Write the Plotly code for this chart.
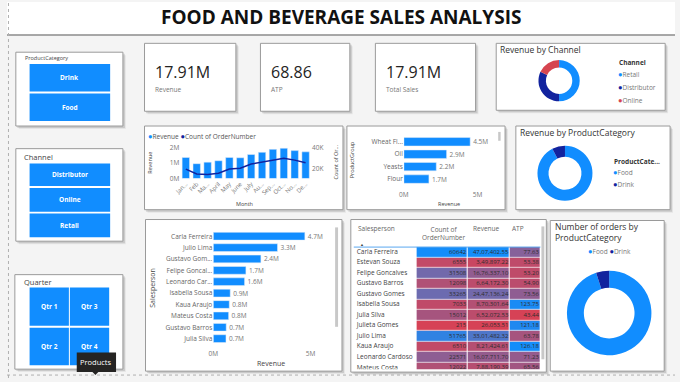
import plotly.graph_objects as go

W, H = 680, 382
def X(px): return px / W
def Y(py): return 1 - py / H

# ---------------- data ----------------
kpi_values = ["17.91M", "68.86", "17.91M"]
kpi_labels = ["Revenue", "ATP", "Total Sales"]

months = ["Jan...", "Feb", "Ma...", "April", "May", "June", "July", "Au...", "Sep...", "Oct...", "No...", "De..."]
month_revenue = [1.35e6, 0.95e6, 1.05e6, 1.14e6, 1.35e6, 1.33e6, 1.54e6, 1.68e6, 1.87e6, 1.94e6, 1.79e6, 1.71e6]
month_orders = [19600, 15000, 14400, 15600, 19600, 20300, 24300, 26100, 27700, 29800, 28000, 25600]

product_groups = ["Wheat Fl...", "Oil", "Yeasts", "Flour"]
product_group_revenue = [4.5e6, 2.9e6, 2.2e6, 1.7e6]

sales_people = ["Carla Ferreira", "Julio Lima", "Gustavo Gom...", "Felipe Goncal...", "Leonardo Car...",
                "Isabella Sousa", "Kaua Araujo", "Mateus Costa", "Gustavo Barros", "Julia Silva"]
sales_revenue = [4707402.55, 3301482.32, 2447136.24, 1676337.10, 1607711.70,
                 870301.64, 821424.61, 788190.39, 664172.30, 652072.53]

channels = ["Retail", "Distributor", "Online"]
channel_revenue = [8.95e6, 5.75e6, 3.21e6]

categories = ["Food", "Drink"]
category_revenue = [16.55e6, 1.36e6]
category_orders = [259800, 13700]

table_headers = ["Salesperson", "Count of<br>OrderNumber", "Revenue", "ATP"]
table_names = ["Carla Ferreira", "Estevan Souza", "Felipe Goncalves", "Gustavo Barros", "Gustavo Gomes",
               "Isabella Sousa", "Julia Silva", "Julieta Gomes", "Julio Lima", "Kaua Araujo",
               "Leonardo Cardoso", "Mateus Costa"]
table_orders = [60642, 6555, 31508, 12098, 33265, 7033, 15012, 215, 51765, 6510, 22571, 12022]
table_revenue = [4707402.55, 349897.22, 1676337.10, 664172.30, 2447136.24, 870301.64, 652072.53,
                 26053.51, 3301482.32, 821424.61, 1607711.70, 788190.39]

# ---------------- styles ----------------
FONT = "Open Sans"
BLUE = "#118DFF"
NAVY = "#12239E"
RED = "#D64550"

fig = go.Figure()
shapes = []
anns = []

def rect(x0, y0, x1, y1, fill, line=None, lw=1, layer="below"):
    shapes.append(dict(type="rect", xref="paper", yref="paper", x0=X(x0), x1=X(x1), y0=Y(y1), y1=Y(y0),
                       fillcolor=fill, layer=layer,
                       line=dict(width=lw if line else 0, color=line or "rgba(0,0,0,0)")))

def card(x0, y0, x1, y1):
    rect(x0 + 3, y0 + 3, x1 + 3, y1 + 3, "rgba(0,0,0,0.06)")
    rect(x0 + 1.5, y0 + 1.5, x1 + 2, y1 + 2, "rgba(0,0,0,0.12)")
    rect(x0, y0, x1, y1, "white", "#9a9a9a", 1)

def ann(x, y, text, size=7, color="#555", xanchor="left", bold=False, angle=0, family=FONT):
    if bold:
        text = "<b>" + text + "</b>"
    anns.append(dict(x=X(x), y=Y(y), xref="paper", yref="paper", text=text, showarrow=False,
                     xanchor=xanchor, yanchor="middle", textangle=angle,
                     font=dict(size=size, color=color, family=family)))

def dot(col):
    return f"<span style='color:{col};font-size:7.5px'>●</span>"

# page decorations
rect(0, 0, 680, 33, "white")
shapes.append(dict(type="line", xref="paper", yref="paper", x0=0, x1=1, y0=Y(33.5), y1=Y(33.5),
                   line=dict(color="#8c8c8c", width=1.5), layer="below"))
shapes.append(dict(type="line", xref="paper", yref="paper", x0=X(1.5), x1=X(1.5), y0=0, y1=1,
                   line=dict(color="#b0b0b0", width=1, dash="dot"), layer="below"))
shapes.append(dict(type="line", xref="paper", yref="paper", x0=0, x1=1, y0=Y(379), y1=Y(379),
                   line=dict(color="#b0b0b0", width=1, dash="dot"), layer="below"))
ann(340, 15.5, "FOOD AND BEVERAGE SALES ANALYSIS", size=19, color="#111", xanchor="center", bold=True)

# ---------------- slicers ----------------
card(9, 51, 118, 126)
ann(16, 57, "ProductCategory", size=5.5, color="#444")
for (y0, y1), lab in zip([(63, 91), (93, 121)], ["Drink", "Food"]):
    rect(23, y0, 105, y1, BLUE)
    ann(64, (y0 + y1) / 2, lab, size=6.5, color="white", xanchor="center", bold=True)

card(9, 149, 118, 243)
ann(15, 157, "Channel", size=7.5, color="#444")
for (y0, y1), lab in zip([(164, 187), (189, 213), (215, 239)], ["Distributor", "Online", "Retail"]):
    rect(23, y0, 105, y1, BLUE)
    ann(64, (y0 + y1) / 2, lab, size=6.5, color="white", xanchor="center", bold=True)

card(8, 277, 118, 373)
ann(15, 284, "Quarter", size=7.5, color="#444")
for (x0, x1, y0, y1), lab in zip([(23, 63, 290, 329), (64, 104, 290, 329), (23, 63, 331, 369), (64, 104, 331, 369)],
                                 ["Qtr 1", "Qtr 3", "Qtr 2", "Qtr 4"]):
    rect(x0, y0, x1, y1, BLUE)
    ann((x0 + x1) / 2, (y0 + y1) / 2, lab, size=6.5, color="white", xanchor="center", bold=True)

# tooltip
rect(71, 356, 111, 376, "#252423", layer="above")
shapes.append(dict(type="path", xref="paper", yref="paper", layer="above",
                   path=f"M {X(87)} {Y(376)} L {X(93)} {Y(376)} L {X(90)} {Y(379)} Z",
                   fillcolor="#252423", line=dict(width=0)))
ann(91, 366, "Products", size=7.5, color="white", xanchor="center")

# ---------------- KPI cards ----------------
for (x0, x1), v, l in zip([(140, 233), (258, 349), (375, 477)], kpi_values, kpi_labels):
    card(x0, 42, x1, 111)
    ann(x0 + 9, 71, v, size=16, color="#252423")
    ann(x0 + 9, 89, l, size=6.5, color="#777")

# ---------------- Revenue by Channel ----------------
card(498, 42, 670, 110)
ann(500, 48, "Revenue by Channel", size=8.5, color="#333")
fig.add_trace(go.Pie(labels=channels, values=channel_revenue, hole=0.64, sort=False, direction="clockwise",
                     marker=dict(colors=[BLUE, NAVY, RED]), textinfo="none", showlegend=False,
                     domain=dict(x=[X(541), X(583)], y=[Y(101), Y(59)])))
ann(621, 61, "Channel", size=6.5, color="#333", bold=True)
for yy, lab, col in zip([73, 86, 100], channels, [BLUE, NAVY, RED]):
    ann(620, yy, dot(col) + lab, size=6.5, color="#777")

# ---------------- Revenue & Count by Month ----------------
card(140, 126, 342, 211)
ann(142, 136, dot(BLUE) + "Revenue " + dot(NAVY) + "Count of OrderNumber", size=6.5, color="#555")
fig.add_trace(go.Bar(x=months, y=month_revenue, marker_color=BLUE, xaxis="x", yaxis="y", showlegend=False))
fig.add_trace(go.Scatter(x=months, y=month_orders, mode="lines", line=dict(color=NAVY, width=1.5),
                         xaxis="x", yaxis="y2", showlegend=False))
ann(146, 163, "Revenue", size=5.5, color="#444", xanchor="center", angle=-90)
ann(242, 205, "Month", size=5.5, color="#444", xanchor="center")
ann(335, 163, "Count of Or...", size=5.5, color="#444", xanchor="center", angle=-90)

# ---------------- Revenue by ProductGroup ----------------
card(346, 126, 507, 211)
fig.add_trace(go.Bar(y=product_groups, x=product_group_revenue, orientation="h", marker_color=BLUE,
                     text=[f"{v/1e6:.1f}M" for v in product_group_revenue], textposition="outside",
                     textfont=dict(size=6.5, color="#777", family=FONT), constraintext="none",
                     cliponaxis=False, xaxis="x2", yaxis="y3", showlegend=False))
ann(352, 160, "ProductGroup", size=5.5, color="#444", xanchor="center", angle=-90)
ann(450, 205, "Revenue", size=5.5, color="#444", xanchor="center")
rect(500, 132, 502.5, 141, "#c8c8c8", layer="above")

# ---------------- Revenue by ProductCategory ----------------
card(518, 126, 675, 211)
ann(520, 133, "Revenue by ProductCategory", size=8.5, color="#333")
fig.add_trace(go.Pie(labels=categories, values=category_revenue, hole=0.6, sort=False, direction="clockwise",
                     marker=dict(colors=[BLUE, NAVY]), textinfo="none", showlegend=False,
                     domain=dict(x=[X(540), X(596)], y=[Y(202), Y(146)])))
ann(616, 162, "ProductCate...", size=6.5, color="#333", bold=True)
for yy, lab, col in zip([173, 184.5], categories, [BLUE, NAVY]):
    ann(615, yy, dot(col) + lab, size=6.5, color="#777")

# ---------------- Revenue by Salesperson ----------------
card(141, 221, 341, 375)
fig.add_trace(go.Bar(y=sales_people, x=sales_revenue, orientation="h", marker_color=BLUE,
                     text=[f"{v/1e6:.1f}M" for v in sales_revenue], textposition="outside",
                     textfont=dict(size=6.5, color="#777", family=FONT), constraintext="none",
                     cliponaxis=False, xaxis="x3", yaxis="y4", showlegend=False))
ann(148, 290, "Salesperson", size=7, color="#444", xanchor="center", angle=-90)
ann(269, 367, "Revenue", size=7, color="#444", xanchor="center")
rect(334, 229, 337, 330, "#c8c8c8", layer="above")

# ---------------- Table (heatmap cells + text) ----------------
card(350, 221, 549, 376)

def inr(v):
    s = f"{v:.2f}"
    ip, dp = s.split(".")
    if len(ip) > 3:
        head, tail = ip[:-3], ip[-3:]
        groups = []
        while len(head) > 2:
            groups.insert(0, head[-2:])
            head = head[:-2]
        if head:
            groups.insert(0, head)
        ip = ",".join(groups) + "," + tail
    return ip + "." + dp

def norm(vals):
    lo, hi = min(vals), max(vals)
    return [(v - lo) / (hi - lo) for v in vals]

table_atp = [r / o for r, o in zip(table_revenue, table_orders)]
n = len(table_names)
rows = list(range(n))
col_edges = [417, 469, 512, 543]          # pixel-unit column edges of the numeric columns
z = [list(t) for t in zip(norm(table_orders), norm(table_revenue), norm(table_atp))]
fig.add_trace(go.Heatmap(x=col_edges, y=rows, z=z, zmin=0, zmax=1, showscale=False,
                         colorscale=[[0, "rgb(214,66,86)"], [1, "rgb(20,141,250)"]],
                         xgap=1, ygap=0.7, hoverinfo="skip", xaxis="x4", yaxis="y5"))
fig.add_trace(go.Scatter(x=[356] * n, y=rows, text=table_names, mode="text", textposition="middle right",
                         textfont=dict(size=6.5, color="#444", family=FONT), hoverinfo="skip",
                         xaxis="x4", yaxis="y5", showlegend=False))
col_texts = [[str(v) for v in table_orders], [inr(v) for v in table_revenue], [f"{v:.2f}" for v in table_atp]]
for c, texts in enumerate(col_texts):
    fig.add_trace(go.Scatter(x=[col_edges[c + 1] - 1.5] * n, y=rows, text=texts, mode="text",
                             textposition="middle left", textfont=dict(size=6, color="#2e2e2e", family=FONT),
                             hoverinfo="skip", xaxis="x4", yaxis="y5", showlegend=False))
# headers
ann(355, 230, table_headers[0], size=6.5, color="#666")
ann(357, 246, "▲", size=4, color="#444")
ann(420, 235, table_headers[1], size=6.5, color="#666")
ann(472, 230, table_headers[2], size=6.5, color="#666")
ann(512, 230, table_headers[3], size=6.5, color="#666")
shapes.append(dict(type="line", xref="paper", yref="paper", x0=X(353), x1=X(543), y0=Y(249), y1=Y(249),
                   line=dict(color="#5aa8f0", width=1), layer="above"))
rect(544, 228, 547, 363, "#c8c8c8", layer="above")

# ---------------- Number of orders by ProductCategory ----------------
card(553, 222, 669, 375)
ann(556, 228, "Number of orders by", size=8.5, color="#333")
ann(556, 239, "ProductCategory", size=8.5, color="#333")
ann(613, 253, dot(BLUE) + "Food " + dot(NAVY) + "Drink", size=6.5, color="#777", xanchor="center")
fig.add_trace(go.Pie(labels=categories, values=category_orders, hole=0.6, sort=False, direction="clockwise",
                     marker=dict(colors=[BLUE, NAVY]), textinfo="none", showlegend=False,
                     domain=dict(x=[X(570), X(656)], y=[Y(359), Y(273)])))

# ---------------- axes ----------------
tickf = dict(size=6.5, color="#777", family=FONT)
row_h = 10.7
tbl_top, tbl_bot = 248.7, 373
fig.update_layout(
    xaxis=dict(domain=[X(176.5), X(309.5)], anchor="y", tickangle=-45, tickfont=dict(size=6, color="#777", family=FONT),
               showgrid=False, zeroline=False, showline=False, ticks=""),
    yaxis=dict(domain=[Y(179.3), Y(144.5)], anchor="x", range=[0, 2.2e6], tickvals=[0, 1e6, 2e6],
               ticktext=["0M", "1M", "2M"], tickfont=tickf, showgrid=False, zeroline=False),
    yaxis2=dict(overlaying="y", side="right", anchor="x", range=[10740, 42960], tickvals=[20000, 40000],
                ticktext=["20K", "40K"], tickfont=tickf, showgrid=False, zeroline=False),
    xaxis2=dict(domain=[X(404), X(479)], anchor="y3", range=[0, 5e6], tickvals=[0, 5e6], ticktext=["0M", "5M"],
                tickfont=tickf, showgrid=False, zeroline=False),
    yaxis3=dict(domain=[Y(190), Y(135.7)], anchor="x2", range=[3.8, -0.5],
                tickfont=dict(size=6.5, color="#666", family=FONT), showgrid=False, zeroline=False),
    xaxis3=dict(domain=[X(210), X(309)], anchor="y4", range=[0, 5e6], tickvals=[0, 5e6], ticktext=["0M", "5M"],
                tickfont=tickf, showgrid=False, zeroline=False),
    yaxis4=dict(domain=[Y(352.4), Y(232.2)], anchor="x3", range=[9.9, -0.5],
                tickfont=dict(size=6.5, color="#666", family=FONT), showgrid=False, zeroline=False),
    xaxis4=dict(domain=[X(353), X(546)], anchor="y5", range=[353, 546], visible=False, fixedrange=True),
    yaxis5=dict(domain=[Y(tbl_bot), Y(tbl_top)], anchor="x4",
                range=[(tbl_bot - tbl_top) / row_h - 0.5, -0.5], visible=False, fixedrange=True),
    bargap=0.3,
)
fig.update_traces(selector=dict(type="bar"), width=0.68)

fig.update_layout(
    width=W, height=H, margin=dict(l=0, r=0, t=0, b=0), autosize=False,
    paper_bgcolor="#f4f4f4", plot_bgcolor="rgba(0,0,0,0)",
    font=dict(family=FONT, color="#555"),
    shapes=shapes, annotations=anns, showlegend=False,
)
fig.write_html("out.html")
